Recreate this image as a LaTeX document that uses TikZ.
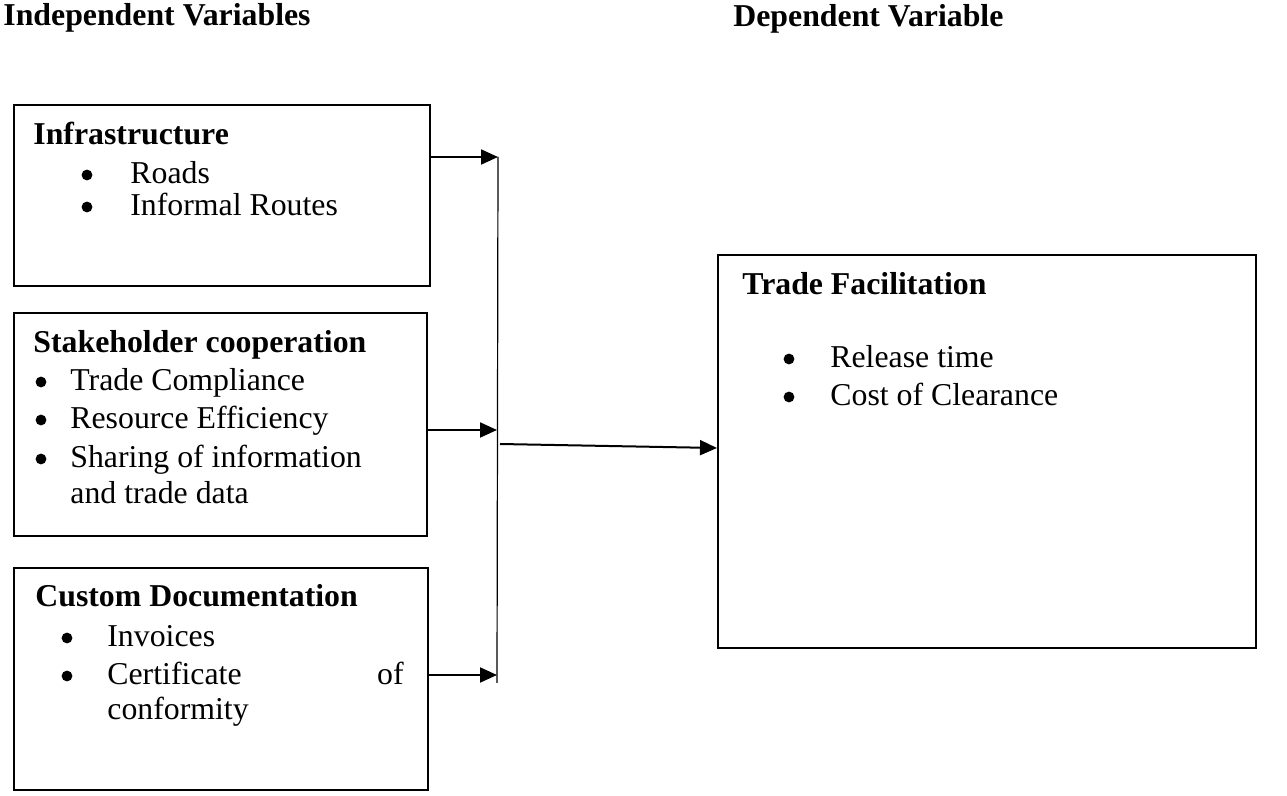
\documentclass[tikz,border=0pt]{standalone}
\usepackage{fontspec}
\setmainfont{Liberation Serif}
\usetikzlibrary{arrows.meta,fit}
\tikzset{
  varbox/.style={draw, line width=1pt, inner sep=0pt},
  txt/.style={anchor=base west, inner sep=0pt, font=\fontsize{15.9}{18}\selectfont},
  hd/.style={txt, font=\fontsize{15.9}{18}\selectfont\bfseries},
  dot/.style={circle, fill, inner sep=0pt, minimum size=5.4pt},
  link/.style={line width=1pt, -{Triangle[length=8.5pt,width=7.5pt]}},
}
\begin{document}
\begin{tikzpicture}[x=0.5pt,y=-0.5pt]
        \useasboundingbox (0,0) rectangle (1287,796);
        %% headings
        \node[hd] (indep) at (3,26) {Independent Variables};
        \node[hd] (dep) at (733,27) {Dependent Variable};
        %% independent variable boxes
        \node[varbox, fit={(14,105) (430,286)}] (infra) {};
        \node[varbox, fit={(14,313) (427,536)}] (stake) {};
        \node[varbox, fit={(14,568) (428,790)}] (custom) {};
        %% dependent variable box
        \node[varbox, fit={(718,255) (1256,648)}] (trade) {};
        %% infrastructure
        \node[hd] (infra-t) at (33,145) {Infrastructure};
        \foreach \t/\y in {Roads/184,Informal Routes/216} {
            \node[dot] (infra-b\y) at (87,\y-9) {};
            \node[txt] (infra-i\y) at (130,\y) {\t};
        }
        %% stakeholder cooperation
        \node[hd] (stake-t) at (33,353) {Stakeholder cooperation};
        \foreach \t/\y in {Trade Compliance/391,Resource Efficiency/429,Sharing of information/468} {
            \node[dot] (stake-b\y) at (41,\y-9) {};
            \node[txt] (stake-i\y) at (70,\y) {\t};
        }
        \node[txt] (stake-i504) at (70,504) {and trade data};
        %% custom documentation
        \node[hd] (custom-t) at (35,607) {Custom Documentation};
        \foreach \y in {647,685}
            \node[dot] (custom-b\y) at (67,\y-9) {};
        \node[txt] (custom-i647) at (107,647) {Invoices};
        \node[txt] (custom-i685) at (107,685) {Certificate};
        \node[txt, anchor=base east] (custom-of) at (404,685) {of};
        \node[txt] (custom-i720) at (107,720) {conformity};
        %% trade facilitation
        \node[hd] (trade-t) at (742,295) {Trade Facilitation};
        \foreach \t/\y in {Release time/368,Cost of Clearance/406} {
            \node[dot] (trade-b\y) at (789,\y-9) {};
            \node[txt] (trade-i\y) at (830,\y) {\t};
        }
        %% joining line
        \coordinate (j-top) at (498,157);
        \coordinate (j-mid) at (497,430);
        \coordinate (j-low) at (497,675);
        \coordinate (j-bot) at (497,683);
        \coordinate (j-out) at (500,444);
        \draw[line width=0.6pt] (j-top) -- (j-bot);
        \draw[link] (infra.east |- j-top) -- (j-top);
        \draw[link] (stake.east |- j-mid) -- (j-mid);
        \draw[link] (custom.east |- j-low) -- (j-low);
        \draw[link] (j-out) -- ([yshift=1.75pt]trade.west);
\end{tikzpicture}
\end{document}
